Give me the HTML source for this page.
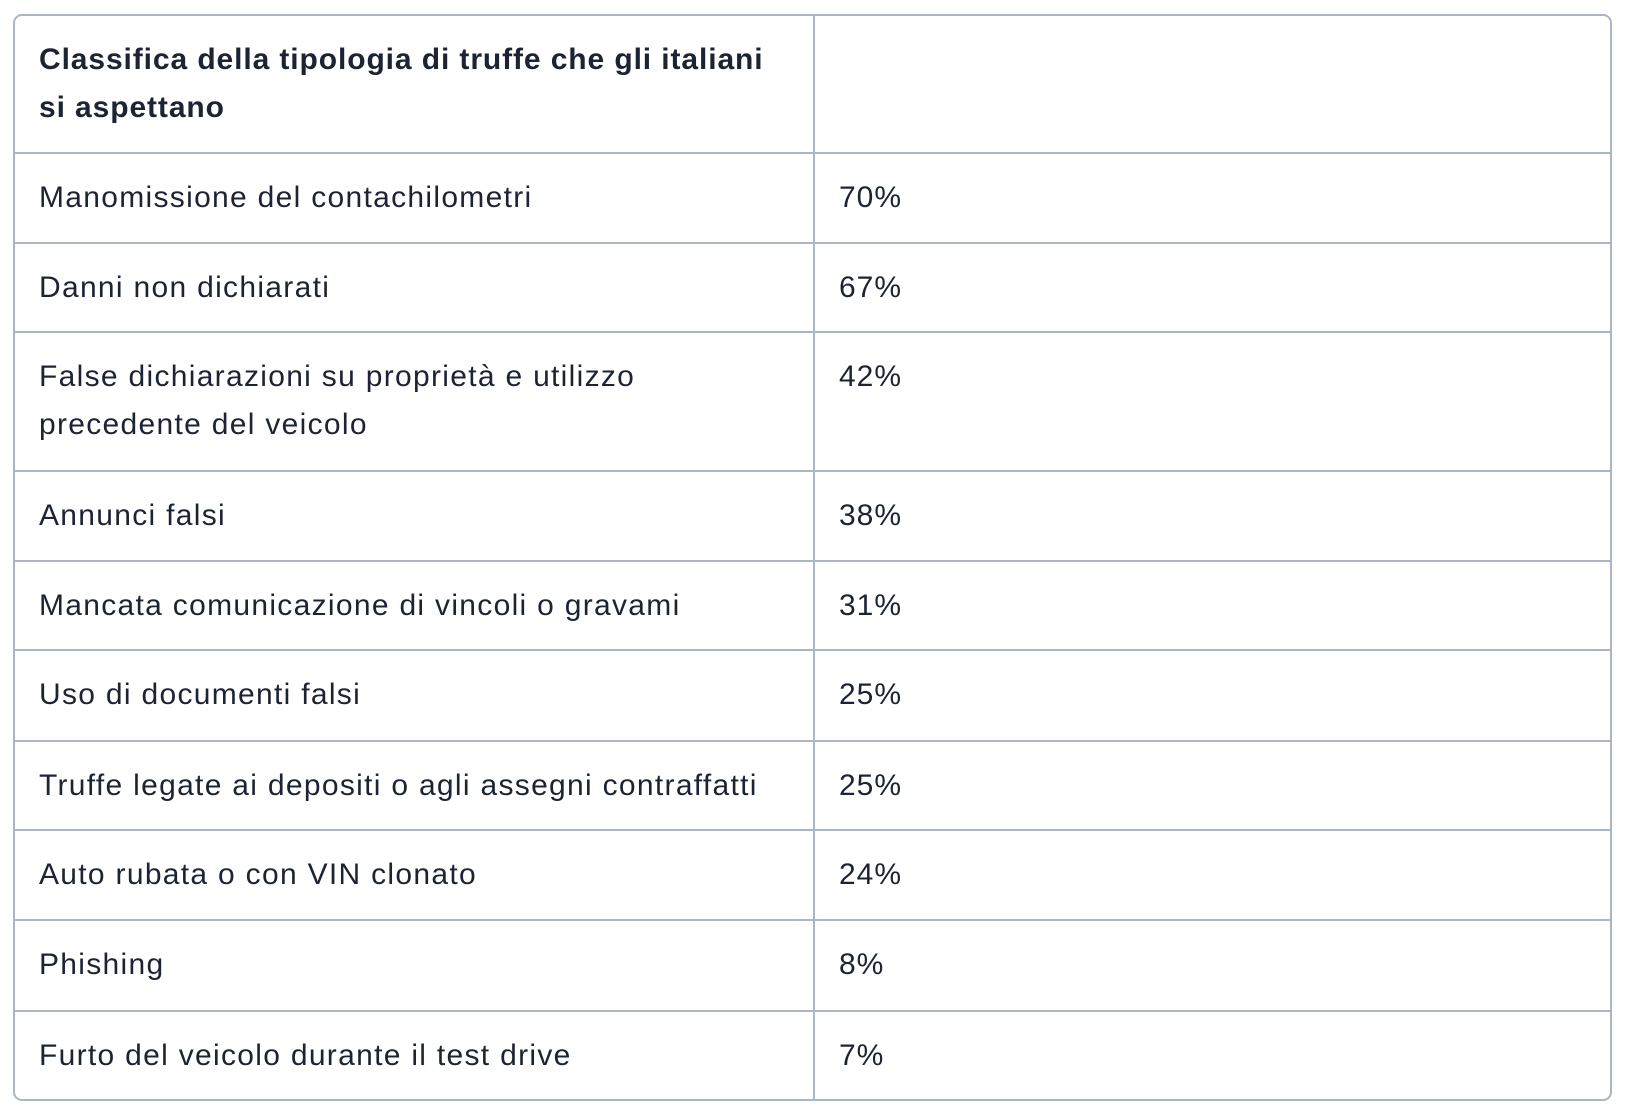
<!DOCTYPE html>
<html><head><meta charset="utf-8"><style>
body{margin:0;width:1634px;height:1118px;background:#fff;position:relative;font-family:"Liberation Sans",sans-serif;color:#1c2434;}
#tbl{position:absolute;left:13px;top:14px;width:1599px;height:1087px;border:2px solid #aab6c3;border-radius:9px;box-sizing:border-box;overflow:hidden;}
.row{position:absolute;left:0;right:0;border-top:2px solid #aab6c3;box-sizing:border-box;}
.row:first-child{border-top:none}
.c1{position:absolute;left:24px;top:20px;width:760px;font-size:30px;line-height:48px;letter-spacing:1.3px;white-space:nowrap}
.c2{position:absolute;left:824px;top:20px;font-size:30px;line-height:48px;letter-spacing:1px}
.div{position:absolute;left:798px;top:0;bottom:0;width:2px;background:#aab6c3}
.h{font-weight:bold;letter-spacing:0.9px}
</style></head><body>
<div id="tbl"></div>
<script>
const labels=["Manomissione del contachilometri","Danni non dichiarati","False dichiarazioni su proprietà e utilizzo<br>precedente del veicolo","Annunci falsi","Mancata comunicazione di vincoli o gravami","Uso di documenti falsi","Truffe legate ai depositi o agli assegni contraffatti","Auto rubata o con VIN clonato","Phishing","Furto del veicolo durante il test drive"];
const values=["70%","67%","42%","38%","31%","25%","25%","24%","8%","7%"];
const lines=[1,1,2,1,1,1,1,1,1,1];
const t=document.getElementById('tbl');
let y=0;
function addRow(html,val,h,cls,name){
  const r=document.createElement('div');r.className='row';
  
  
  r.style.top=y+'px';r.style.height=h+'px';
  const a=document.createElement('div');a.className='c1 '+cls;a.innerHTML=html;
  
  
  const b=document.createElement('div');b.className='c2';b.textContent=val;
  
  
  r.appendChild(a);r.appendChild(b);t.appendChild(r);y+=h;
}
addRow("Classifica della tipologia di truffe che gli italiani<br>si aspettano","",136,'h','header-row');
const hs=[90,89,139,90,89,91,89,90,91,89];
labels.forEach((l,i)=>addRow(l,values[i],hs[i],'','row-'+(i+1)));
const d=document.createElement('div');d.className='div';


t.appendChild(d);
</script>
</body></html>
